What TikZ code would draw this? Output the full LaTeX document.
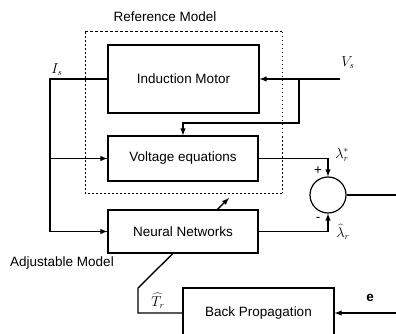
\documentclass[tikz,border=0pt]{standalone}
\usepackage{fontspec}
\setmainfont{Liberation Sans}
\usetikzlibrary{positioning, arrows.meta, backgrounds}
\tikzstyle{block}=[draw,fill=white,rectangle,line width=1.2pt]
\tikzstyle{every node}=[font=\fontsize{13.5}{15}\selectfont]
\tikzstyle{sig}=[line width=1.4pt]
\tikzstyle{tag}=[inner sep=1pt]

\begin{document}
\begin{tikzpicture}[>=latex, x=1pt, y=-1pt]
            \useasboundingbox (0,0) rectangle (396,334);
            % reference model frame
            \draw[line width=1pt, dash pattern=on 2pt off 2pt] (282,193) -- (85,193) -- (85,32);
            \draw[line width=1pt, dash pattern=on 3pt off 2pt] (85,32) -- (282,32);
            \draw[line width=1pt, dash pattern=on 1.5pt off 2.5pt] (282,32) -- (282,193);
            \node (Reflabel) at (165,17) {Reference Model};
            \node (Adjlabel) at (62,263) {Adjustable Model};
            % blocks
            \node[block, minimum width=151pt, minimum height=68pt] (Motor) at (183.5,79) {Induction Motor};
            \node[block, minimum width=150pt, minimum height=45pt] (Volteq) at (183,158.5) {Voltage equations};
            \node[block, minimum width=150pt, minimum height=43pt] (Nn) at (183,231.5) {Neural Networks};
            \node[block, minimum width=151pt, minimum height=50pt] (Bp) at (258.5,313) {Back Propagation};
            \node[draw, circle, line width=1.2pt, minimum size=36pt, inner sep=0pt] (Sum) at (328,195) {};
            % free ends and corners
            \coordinate (Vin) at (340,79);
            \coordinate (Vsplit) at (299,79);
            \coordinate (Vturn) at (299,123);
            \coordinate (Isleft) at (50,79);
            \coordinate (Out) at (396,195);
            \coordinate (Ein) at (396,313);
            \coordinate (Fb1) at (138,313);
            \coordinate (Fb2) at (138,288);
            \coordinate (Tune) at (229,198);
            % signals
            \draw[sig, ->] (Vin) -- (Motor);
            \draw[sig, ->] (Vsplit) -- (Vturn) -| (Volteq.north);
            \draw[sig, ->] (Motor.west) -- (Isleft) |- (Nn.west);
            \draw[sig, ->] (Isleft |- Volteq.west) -- (Volteq.west);
            \draw[sig, ->] (Volteq.east) -| (Sum.north);
            \draw[sig, ->] (Nn.east) -| (Sum.south);
            \draw[sig] (Sum.east) -- (Out);
            \draw[sig, ->] (Ein) -- (Bp.east);
            \begin{pgfonlayer}{background}
                \draw[sig, ->] (Bp.west) -- (Fb1) -- (Fb2) -- (Tune);
            \end{pgfonlayer}
            % signal labels
            \node[tag] (Is) at (57,70) {$I_s$};
            \node[tag] (Vs) at (348,63) {$V_s$};
            \node[tag] (Lref) at (342,155) {$\lambda_r^*$};
            \node[tag] (Lest) at (343,232) {$\widehat{\lambda}_r$};
            \node[tag] (Test) at (158,301) {$\widehat{T}_r$};
            \node[tag] (E) at (370,298) {$\mathbf{e}$};
            \node[tag] (Plus) at (318,171) {+};
            \node[tag] (Minus) at (318,219) {-};
        \end{tikzpicture}
\end{document}
